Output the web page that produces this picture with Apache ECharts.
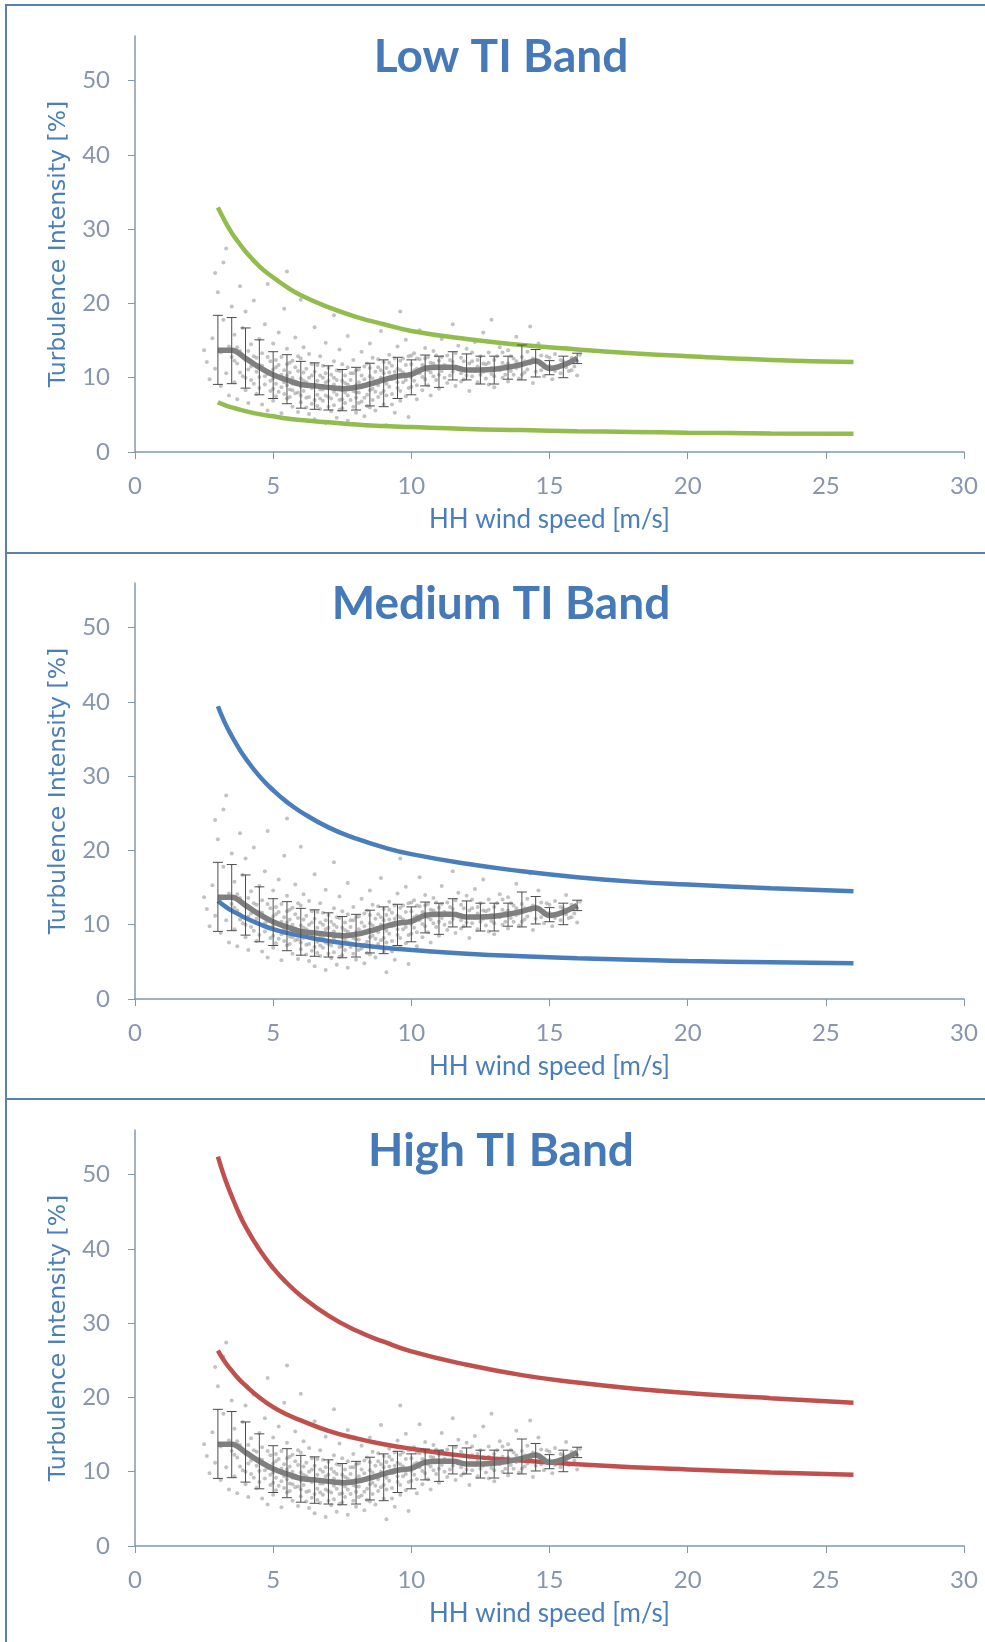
<!DOCTYPE html>
<html>
<head>
<meta charset="utf-8">
<title>TI Bands</title>
<script src="https://cdn.jsdelivr.net/npm/echarts@6/dist/echarts.min.js"></script>
<style>
  html, body { margin: 0; padding: 0; background: #fff; }
  #chart { width: 985px; height: 1642px; }
</style>
</head>
<body>
<div id="chart"></div>
<script>
// panel titles
var panelTitles = ['Low TI Band', 'Medium TI Band', 'High TI Band'];
var xTicks = [0, 5, 10, 15, 20, 25, 30];
var yTicks = [0, 10, 20, 30, 40, 50];

// IEC band curves, x = wind speed
var curveX = [3, 3.25, 3.5, 3.75, 4, 4.5, 5, 5.5, 6, 7, 8, 9, 10, 12, 14, 16, 18, 20, 23, 26];
var lowUpper  = [32.9, 31.1, 29.5, 28.2, 27.0, 25.0, 23.5, 22.2, 21.1, 19.5, 18.2, 17.2, 16.3, 15.2, 14.4, 13.8, 13.3, 12.9, 12.4, 12.1];
var lowLower  = [6.7, 6.3, 6.0, 5.75, 5.5, 5.1, 4.8, 4.5, 4.3, 4.0, 3.7, 3.5, 3.35, 3.1, 2.95, 2.8, 2.7, 2.6, 2.5, 2.45];
var medUpper  = [39.4, 37.2, 35.4, 33.8, 32.4, 30.0, 28.1, 26.5, 25.2, 23.1, 21.6, 20.4, 19.5, 18.2, 17.2, 16.4, 15.8, 15.4, 14.9, 14.5];
var medLower  = [13.2, 12.5, 11.9, 11.4, 10.9, 10.1, 9.4, 8.9, 8.5, 7.8, 7.3, 6.9, 6.6, 6.1, 5.75, 5.5, 5.3, 5.1, 4.95, 4.8];
var highUpper = [52.4, 49.5, 47.1, 44.9, 43.0, 39.9, 37.4, 35.4, 33.7, 31.0, 29.0, 27.5, 26.2, 24.4, 23.0, 22.0, 21.2, 20.6, 19.9, 19.3];
var highLower = [26.3, 24.8, 23.6, 22.5, 21.6, 20.0, 18.7, 17.7, 16.9, 15.5, 14.5, 13.7, 13.1, 12.1, 11.5, 11.0, 10.6, 10.3, 9.9, 9.6];

// binned mean TI with std error bars
var binX = [3, 3.5, 4, 4.5, 5, 5.5, 6, 6.5, 7, 7.5, 8, 8.5, 9, 9.5, 10, 10.5, 11, 11.5, 12, 12.5, 13, 13.5, 14, 14.5, 15, 15.5, 16];
var binMean = [13.7, 13.7, 12.6, 11.4, 10.4, 9.7, 9.1, 8.9, 8.7, 8.5, 8.7, 9.15, 9.7, 10.2, 10.45, 11.25, 11.4, 11.4, 11.05, 11.05, 11.15, 11.4, 11.8, 12.25, 11.25, 11.7, 12.6];
var binLow = [9.1, 9.2, 8.6, 7.7, 7.2, 6.5, 5.9, 5.75, 5.65, 5.55, 5.65, 6.2, 6.1, 7.2, 7.7, 8.9, 8.7, 9.7, 9.7, 9.15, 9.15, 9.8, 9.7, 10.1, 10.4, 10.0, 11.9];
var binHigh = [18.4, 18.1, 16.7, 15.1, 13.5, 13.1, 12.2, 12.0, 11.6, 11.1, 11.4, 11.95, 12.4, 12.75, 12.4, 13.05, 12.9, 13.5, 13.2, 12.9, 12.9, 12.9, 14.4, 13.8, 12.3, 12.9, 13.3];

// 10-min measurements (wind speed, TI)
var measured = [
  [2.5,13.7],[2.6,12.1],[2.7,9.8],[2.8,15.3],[2.9,11.2],[2.9,24.1],[3.0,21.5],[3.1,8.9],[3.1,13.4],[3.2,17.8],
  [3.2,25.5],[3.3,10.6],[3.3,27.4],[3.4,14.2],[3.4,7.6],[3.5,12.8],[3.5,19.6],
  [3.6,9.4],[3.6,15.8],[3.7,11.9],[3.7,7.1],[3.8,13.6],[3.8,22.3],[3.9,10.2],[3.9,16.7],[4.0,8.3],[4.0,12.4],
  [4.0,18.9],[4.1,11.1],[4.1,6.6],[4.2,14.5],[4.2,9.7],[4.3,20.4],[4.3,12.9],[4.4,7.8],[4.4,10.8],[4.5,15.2],
  [4.5,8.6],[4.5,11.7],
  [4.6,6.4],[4.6,13.3],[4.7,9.1],[4.7,17.2],[4.8,10.5],[4.8,5.6],[4.8,22.6],[4.9,12.2],[4.9,8.2],[5.0,14.6],
  [5.0,9.9],[5.0,6.9],[5.1,11.4],[5.1,7.5],[5.2,16.1],[5.2,10.1],[5.3,8.7],[5.3,12.8],[5.3,5.2],[5.4,9.4],
  [5.4,19.3],[5.5,11.8],[5.5,7.2],[5.5,13.9],[5.5,24.3],[5.6,8.4],[5.6,10.7],[5.7,6.1],[5.7,12.3],[5.7,9.2],
  [5.8,15.4],[5.8,7.9],[5.9,10.9],[5.9,5.4],[6.0,8.8],[6.0,12.6],[6.0,6.7],[6.0,20.5],
  [6.1,9.6],[6.1,14.1],[6.2,7.3],[6.2,11.2],[6.3,5.1],[6.3,8.9],[6.3,13.2],[6.4,10.3],[6.4,6.5],[6.5,9.1],
  [6.5,16.8],[6.5,4.4],[6.6,11.7],[6.6,7.7],[6.7,8.4],[6.7,12.9],[6.7,5.8],[6.8,10.0],[6.8,6.9],[6.9,9.4],
  [6.9,14.7],[6.9,3.9],[7.0,7.4],[7.0,11.3],[7.0,8.6],[7.1,5.5],[7.1,10.4],[7.2,12.2],[7.2,6.3],[7.2,8.1],
  [7.2,18.4],[7.3,9.7],[7.3,4.6],[7.4,13.8],[7.4,7.0],[7.4,10.9],[7.5,8.3],[7.5,5.9],[7.5,11.8],[7.6,6.6],
  [7.6,9.3],[7.7,15.6],[7.7,7.6],[7.7,4.2],[7.8,10.6],[7.8,8.7],[7.9,6.1],[7.9,12.4],[8.0,9.0],[8.0,5.3],[8.0,7.3],
  [8.1,11.1],[8.1,8.0],[8.2,6.8],[8.2,13.5],[8.3,9.8],[8.3,4.8],[8.4,7.7],[8.4,11.9],[8.5,10.2],[8.5,6.0],
  [8.5,14.6],[8.6,8.5],[8.6,12.7],[8.7,9.5],[8.7,5.6],[8.8,11.4],[8.8,7.4],[8.9,16.3],[8.9,10.0],[9.0,8.2],
  [9.0,12.1],[9.0,6.4],[9.1,9.2],[9.1,3.6],[9.2,13.1],[9.2,10.7],[9.3,7.8],[9.3,11.6],[9.4,5.3],[9.4,9.9],
  [9.5,14.2],[9.5,8.6],[9.6,11.0],[9.6,6.9],[9.6,18.9],[9.7,12.6],[9.7,9.4],[9.8,7.5],[9.8,15.1],[9.9,10.4],
  [9.9,4.7],[10.0,11.8],[10.0,8.8],
  [10.1,13.3],[10.1,9.6],[10.2,7.1],[10.2,11.2],[10.3,12.5],[10.3,16.4],[10.4,10.1],[10.4,8.3],[10.5,14.0],
  [10.5,11.5],[10.6,9.0],[10.6,12.8],[10.7,7.6],[10.7,10.7],[10.8,13.6],[10.8,11.9],[10.9,9.7],[11.0,12.3],
  [11.0,8.5],[11.1,15.2],[11.1,10.9],[11.2,11.7],[11.3,9.3],[11.3,13.0],[11.4,10.3],[11.5,12.1],[11.5,17.2],
  [11.6,8.9],[11.6,11.4],[11.7,14.3],[11.8,10.6],[11.8,12.7],[11.9,9.8],[12.0,11.0],[12.0,13.9],
  [12.1,8.2],[12.2,12.2],[12.2,10.2],[12.3,14.8],[12.4,11.5],[12.4,9.4],[12.5,12.9],[12.6,10.8],[12.6,16.1],
  [12.7,11.8],[12.8,9.1],[12.8,13.4],[12.9,10.5],[12.9,17.8],[13.0,12.4],[13.0,8.7],[13.1,11.2],[13.2,14.1],
  [13.3,10.0],[13.3,12.0],[13.4,11.6],[13.5,9.5],[13.5,13.7],[13.6,10.9],[13.7,12.6],[13.8,15.5],[13.8,11.3],
  [13.9,9.9],[14.0,12.8],
  [14.1,10.7],[14.2,13.5],[14.3,11.9],[14.3,16.9],[14.4,9.3],[14.5,12.4],[14.6,14.6],[14.7,11.0],[14.8,10.2],
  [14.9,12.9],[15.0,11.6],[15.1,9.8],[15.2,13.2],[15.3,11.3],[15.4,10.6],[15.5,12.2],[15.6,14.0],[15.7,10.9],
  [15.8,12.7],[15.9,11.5],[16.0,10.3],[16.1,13.1],
  // dense core around the bin means
  [3.6,12.3],[3.7,14.1],[3.8,10.7],[3.9,12.9],[4.0,10.0],[4.1,13.6],[4.2,11.5],[4.3,9.2],[4.4,12.7],[4.5,10.1],
  [4.6,11.6],[4.7,10.2],[4.8,12.8],[4.9,9.6],[5.0,11.1],[5.0,8.5],
  [5.1,9.2],[5.1,12.4],[5.2,8.1],[5.2,11.7],[5.3,10.4],[5.4,7.8],[5.4,11.0],[5.5,9.0],[5.5,10.3],[5.6,12.0],
  [5.6,7.4],[5.7,10.0],[5.7,8.3],[5.8,9.5],[5.8,11.4],[5.9,8.0],[5.9,12.9],[6.0,9.9],[6.0,7.6],[6.1,10.7],
  [6.1,8.2],[6.2,9.4],[6.2,6.0],[6.3,10.0],[6.3,7.4],[6.4,11.8],[6.4,8.6],[6.5,7.0],[6.5,10.8],[6.6,9.6],
  [6.6,6.2],[6.7,10.3],[6.7,7.2],[6.8,8.4],[6.8,11.6],[6.9,7.6],[6.9,10.6],[7.0,9.6],[7.0,6.1],
  [7.1,8.8],[7.1,7.2],[7.2,10.0],[7.2,9.1],[7.3,7.7],[7.3,11.0],[7.4,8.7],[7.4,5.7],[7.5,9.6],[7.5,7.1],
  [7.6,10.3],[7.6,8.0],[7.7,9.1],[7.7,11.4],[7.8,7.0],[7.8,9.7],[7.9,8.2],[7.9,10.6],[8.0,8.0],[8.0,11.0],
  [8.1,9.4],[8.1,6.6],[8.2,10.3],[8.2,8.7],[8.3,7.3],[8.3,11.5],[8.4,9.1],[8.4,6.2],[8.5,8.3],[8.5,11.3],
  [8.6,9.9],[8.6,7.0],[8.7,10.8],[8.7,8.1],[8.8,9.0],[8.8,12.5],[8.9,7.9],[8.9,11.0],[9.0,9.5],[9.0,10.6],
  [9.1,11.3],[9.1,7.6],[9.2,8.8],[9.2,12.0],[9.3,9.8],[9.3,6.4],[9.4,10.8],[9.4,12.6],[9.5,9.4],[9.5,11.2],
  [9.6,8.2],[9.6,12.3],[9.7,10.7],[9.8,9.7],[9.8,11.7],[9.9,8.6],[9.9,12.9],[10.0,10.1],[10.0,13.0],[10.1,11.0],
  [10.2,9.0],[10.2,12.6],[10.3,10.6],[10.4,11.7],[10.5,9.8],[10.5,12.6],[10.6,11.0],[10.7,12.0],[10.8,10.2],
  [10.9,11.5],[10.9,13.0],[11.0,10.4],
  [11.1,12.8],[11.2,10.0],[11.3,11.4],[11.4,12.4],[11.5,10.8],[11.6,13.3],[11.7,11.1],[11.8,9.5],[11.9,12.2],
  [12.0,10.3],[12.1,11.9],[12.2,13.4],[12.3,10.9],[12.4,12.4],[12.5,10.4],[12.6,11.9],[12.7,9.9],[12.8,12.0],
  [12.9,11.3],[13.0,10.2],[13.1,12.9],[13.2,11.0],[13.3,13.4],[13.4,10.4],[13.5,11.9],[13.6,12.9],[13.7,10.4],
  [13.8,12.2],[13.9,11.5],[14.0,10.4],[14.1,12.2],[14.2,11.1],[14.4,12.6],[14.5,10.8],[14.7,13.0],[14.8,11.8],
  [15.0,12.7],[15.2,10.9],[15.4,12.4],[15.6,11.4],[15.8,11.0],[16.0,12.2]
];

var bandCurves = [[lowUpper, lowLower], [medUpper, medLower], [highUpper, highLower]];
var bandColors = ['#92bc4c', '#4a7ebb', '#c0504d'];

var gridTop = 36, gridH = 416, panelStep = 547;
var blue = '#4a7ebb';
var tickColor = '#8896ad';
var axisColor = '#8497b0';

function pairs(xs, ys) {
  return xs.map(function (x, i) { return [x, ys[i]]; });
}

function renderErr(params, api) {
  var x = api.value(0);
  var lo = api.coord([x, api.value(1)]);
  var hi = api.coord([x, api.value(2)]);
  var hw = 5;
  return {
    type: 'group',
    children: [
      { type: 'line', shape: { x1: lo[0], y1: lo[1], x2: hi[0], y2: hi[1] }, style: { stroke: '#4d4d4d', lineWidth: 1 } },
      { type: 'line', shape: { x1: lo[0] - hw, y1: lo[1], x2: lo[0] + hw, y2: lo[1] }, style: { stroke: '#4d4d4d', lineWidth: 1 } },
      { type: 'line', shape: { x1: hi[0] - hw, y1: hi[1], x2: hi[0] + hw, y2: hi[1] }, style: { stroke: '#4d4d4d', lineWidth: 1 } }
    ]
  };
}

var grids = [], xAxes = [], yAxes = [], titles = [], series = [];

for (var p = 0; p < 3; p++) {
  var panelTop = gridTop + p * panelStep;
  grids.push({ left: 135, right: 21, top: panelTop, height: gridH });
  titles.push({
    text: panelTitles[p],
    left: 496,
    top: panelTop - 7,
    textAlign: 'center',
    textStyle: { fontFamily: 'Lato', fontWeight: 'bold', fontSize: 46, color: '#4679b8' }
  });
  xAxes.push({
    gridIndex: p, type: 'value', min: xTicks[0], max: xTicks[xTicks.length - 1], interval: 5,
    name: 'HH wind speed [m/s]', nameLocation: 'middle', nameGap: 55,
    nameTextStyle: { fontFamily: 'Lato', fontSize: 26, color: blue },
    axisLine: { show: true, onZero: false, lineStyle: { color: axisColor, width: 1.5 } },
    axisTick: { show: true, length: 7, lineStyle: { color: axisColor } },
    axisLabel: { margin: 22, fontFamily: 'Lato', fontSize: 24, color: tickColor },
    splitLine: { show: false }
  });
  yAxes.push({
    gridIndex: p, type: 'value', min: 0, max: 56, interval: 10,
    name: 'Turbulence Intensity [%]', nameLocation: 'middle', nameGap: 61,
    nameTextStyle: { fontFamily: 'DejaVu Sans', fontSize: 23.5, color: blue },
    axisLine: { show: true, onZero: false, lineStyle: { color: axisColor, width: 1.5 } },
    axisTick: { show: true, length: 7, lineStyle: { color: axisColor } },
    axisLabel: {
      margin: 25, fontFamily: 'Lato', fontSize: 24, color: tickColor, showMaxLabel: false,
      formatter: function (v) { return yTicks.indexOf(v) >= 0 ? String(v) : ''; }
    },
    splitLine: { show: false }
  });

  series.push({
    type: 'scatter', xAxisIndex: p, yAxisIndex: p,
    data: measured.map(function (d) { return d.slice(); }),
    symbolSize: 4, silent: true,
    itemStyle: { color: '#999999', opacity: 0.6 }, z: 1
  });
  for (var c = 0; c < 2; c++) {
    series.push({
      type: 'line', xAxisIndex: p, yAxisIndex: p,
      data: pairs(curveX, bandCurves[p][c]),
      smooth: 0.5, showSymbol: false, silent: true,
      lineStyle: { color: bandColors[p], width: 4.5 }, z: 2
    });
  }
  series.push({
    type: 'line', xAxisIndex: p, yAxisIndex: p,
    data: pairs(binX, binMean),
    smooth: 0.4, showSymbol: false, silent: true,
    lineStyle: { color: '#7f7f7f', width: 5.5 }, z: 3
  });
  series.push({
    type: 'custom', xAxisIndex: p, yAxisIndex: p,
    data: binX.map(function (x, i) { return [x, binLow[i], binHigh[i]]; }),
    renderItem: renderErr, silent: true, z: 4
  });
}

var option = {
  backgroundColor: '#ffffff',
  animation: false,
  title: titles,
  grid: grids,
  xAxis: xAxes,
  yAxis: yAxes,
  series: series,
  graphic: [
    { type: 'line', shape: { x1: 5, y1: 5, x2: 985, y2: 5 }, style: { stroke: '#5b7fb0', lineWidth: 2 }, z: 10 },
    { type: 'line', shape: { x1: 6, y1: 5, x2: 6, y2: 1642 }, style: { stroke: '#5b7fb0', lineWidth: 2 }, z: 10 },
    { type: 'line', shape: { x1: 6, y1: 553, x2: 985, y2: 553 }, style: { stroke: '#5b7fb0', lineWidth: 2 }, z: 10 },
    { type: 'line', shape: { x1: 6, y1: 1099, x2: 985, y2: 1099 }, style: { stroke: '#5b7fb0', lineWidth: 2 }, z: 10 }
  ]
};

var chart = echarts.init(document.getElementById('chart'));
chart.setOption(option);
</script>
</body>
</html>
